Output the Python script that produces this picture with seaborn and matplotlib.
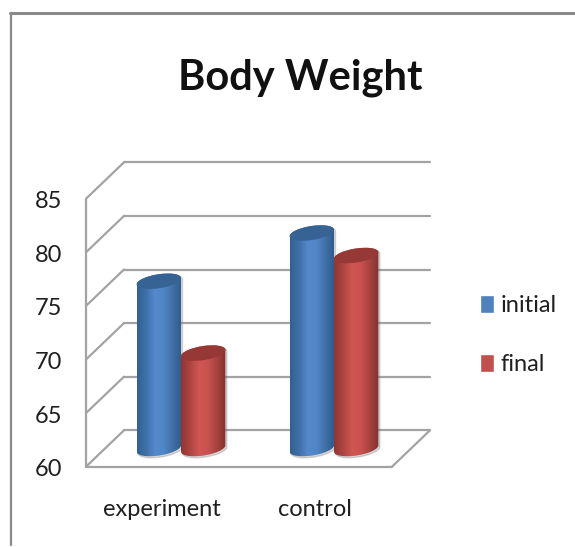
import numpy as np
import pandas as pd
import matplotlib
matplotlib.use('Agg')
import matplotlib.pyplot as plt
from matplotlib.colors import LinearSegmentedColormap
from matplotlib.patches import Ellipse, PathPatch
from matplotlib.path import Path
from matplotlib.transforms import offset_copy, IdentityTransform, Affine2D
import seaborn as sns

categories = ['experiment', 'control']
series_names = ['initial', 'final']
initial_values = [75.6, 80.1]
final_values = [68.9, 78.0]
tick_values = [60, 65, 70, 75, 80, 85]
title = 'Body Weight'

W, H = 575, 547
sns.set_theme(style='white')
plt.rcParams['font.family'] = ['Lato', 'DejaVu Sans']

df = pd.DataFrame({
    'group': categories * 2,
    'series': [series_names[0]] * 2 + [series_names[1]] * 2,
    'value': initial_values + final_values,
})

fig = plt.figure(figsize=(5.75, 5.47), dpi=100)
ax = fig.add_axes([0, 0, 1, 1])
sns.barplot(data=df, x='group', y='value', hue='series', order=categories,
            hue_order=series_names, palette=['#4f81bd', '#c0504d'],
            width=0.58, gap=0, saturation=1, ax=ax, zorder=3)

# axes fill the figure, so limits are worked out from pixel positions of the plot
PX_PER_UNIT = 10.72
BASE_PX = 448.5
X0_PX, X_STEP = 181, 153
xlim = (-X0_PX / X_STEP, (W - X0_PX) / X_STEP)
ylim = (60 - (H - BASE_PX) / PX_PER_UNIT, 60 + BASE_PX / PX_PER_UNIT)
ax.set_xlim(xlim)
ax.set_ylim(ylim)
ax.axis('off')


def xd(px):
    return (px - X0_PX) / X_STEP


back = offset_copy(ax.transData, fig=fig, x=19, y=18.2, units='dots')
front = offset_copy(ax.transData, fig=fig, x=-19, y=-18.2, units='dots')
grid_c = '#a3a3a3'

# back wall lines, side wall and floor
x_l, x_r = xd(105), xd(411)
for v in tick_values:
    ax.plot([x_l, x_r], [v, v], color=grid_c, lw=1.6, transform=back, zorder=1)
    xs = ax.transData.transform([[x_l, v]])[0]
    ax.plot([xs[0] - 19, xs[0] + 19], [xs[1] - 18.2, xs[1] + 18.2], color=grid_c, lw=1.6,
            transform=IdentityTransform(), zorder=1)
ax.plot([x_l, x_l], [60, 85], color=grid_c, lw=1.6, transform=front, zorder=1)
ax.plot([x_l, x_r], [60, 60], color=grid_c, lw=1.6, transform=front, zorder=1)
p = ax.transData.transform([[x_r, 60]])[0]
ax.plot([p[0] - 19, p[0] + 19], [p[1] - 18.2, p[1] + 18.2], color=grid_c, lw=1.6,
        transform=IdentityTransform(), zorder=1)

# turn the flat bars into cylinders
styles = {
    0: (['#33608f', '#3f70a8', '#5589cc', '#5085c6', '#3f6fa6', '#2f5a88'], '#376394'),
    1: (['#8e3634', '#ad4542', '#cf5653', '#c95250', '#a84340', '#833230'], '#953836'),
}
grad = np.linspace(0, 1, 128).reshape(1, -1)
ELL_B = 7
TILT = np.radians(9)


def half_ellipse(center, a, start, stop):
    t = np.linspace(start, stop, 40)
    px = center[0] + a * np.cos(t) * np.cos(TILT) - ELL_B * np.sin(t) * np.sin(TILT)
    py = center[1] + a * np.cos(t) * np.sin(TILT) + ELL_B * np.sin(t) * np.cos(TILT)
    return np.column_stack([px, py])


for i, bar in enumerate(ax.patches[:4]):
    value = bar.get_height()
    bar.set_y(60 + 3 / PX_PER_UNIT)
    bar.set_height(value - 60 - 3 / PX_PER_UNIT)
    bar.set_linewidth(0)
    bar.set_alpha(0)
    cols, top_c = styles[i // 2]
    cmap = LinearSegmentedColormap.from_list('cyl', cols)
    z = 3 + i // 2 + (i % 2) * 0.5
    x0 = bar.get_x()
    x1 = x0 + bar.get_width()

    p0 = ax.transData.transform([[(x0 + x1) / 2, 60]])[0]
    p1 = ax.transData.transform([[(x0 + x1) / 2, value]])[0]
    width_px = ax.transData.transform([[x1, 60]])[0][0] - ax.transData.transform([[x0, 60]])[0][0]
    a = width_px / 2 / np.cos(TILT)

    # outline: bottom half of the lower ellipse, then back along the top one
    outline = np.vstack([half_ellipse(p0, a, np.pi, 2 * np.pi),
                         half_ellipse(p1, a, 0, np.pi)])
    body = Path(np.vstack([outline, outline[:1]]), closed=True)
    ax.add_patch(PathPatch(body.transformed(Affine2D().translate(1.5, -1.5)),
                           fc='#808080', ec='#808080', alpha=0.3, lw=1,
                           transform=IdentityTransform(), zorder=z - 0.1))
    im = ax.imshow(grad, extent=[x0, x1, 60 - 14 / PX_PER_UNIT, value + 14 / PX_PER_UNIT],
                   aspect='auto', cmap=cmap, zorder=z, interpolation='bilinear')
    im.set_clip_path(body, IdentityTransform())
    ax.add_patch(Ellipse(p1, 2 * a, 2 * ELL_B, angle=np.degrees(TILT),
                         transform=IdentityTransform(), fc=top_c, ec='none', zorder=z + 0.2))

ax.set_xlim(xlim)
ax.set_ylim(ylim)

# text
txt_c = '#1f1f1f'
for v in tick_values:
    ax.text(xd(81.5), v - 3 / PX_PER_UNIT, str(v), transform=front, ha='right', va='center',
            fontsize=17, color=txt_c)
for i, c in enumerate(categories):
    ax.text(i, 60 - 42.5 / PX_PER_UNIT, c, transform=front, ha='center', va='center',
            fontsize=17, color=txt_c)
fig.text(300 / W, 1 - 78 / H, title, ha='center', va='center', fontsize=30,
         fontweight='bold', color='#111111')

# legend from the bars
handles, labels = ax.get_legend_handles_labels()
for h in handles:
    h.set_alpha(1)
ax.legend(handles, labels, loc='upper left', bbox_to_anchor=(480 / W, 1 - 295 / H), frameon=False,
          fontsize=17, handlelength=0.6, handleheight=0.78, handletextpad=0.26, labelspacing=1.6,
          labelcolor=txt_c, borderpad=0, borderaxespad=0)

# outer frame of the picture
fig.add_artist(plt.Line2D([10 / W, 1], [1 - 13 / H] * 2, color='#8a8a8a', lw=2.2))
fig.add_artist(plt.Line2D([11 / W, 11 / W], [1 - 13 / H, 0.003], color='#8a8a8a', lw=1.6))

fig.savefig('out.png', dpi=100)
